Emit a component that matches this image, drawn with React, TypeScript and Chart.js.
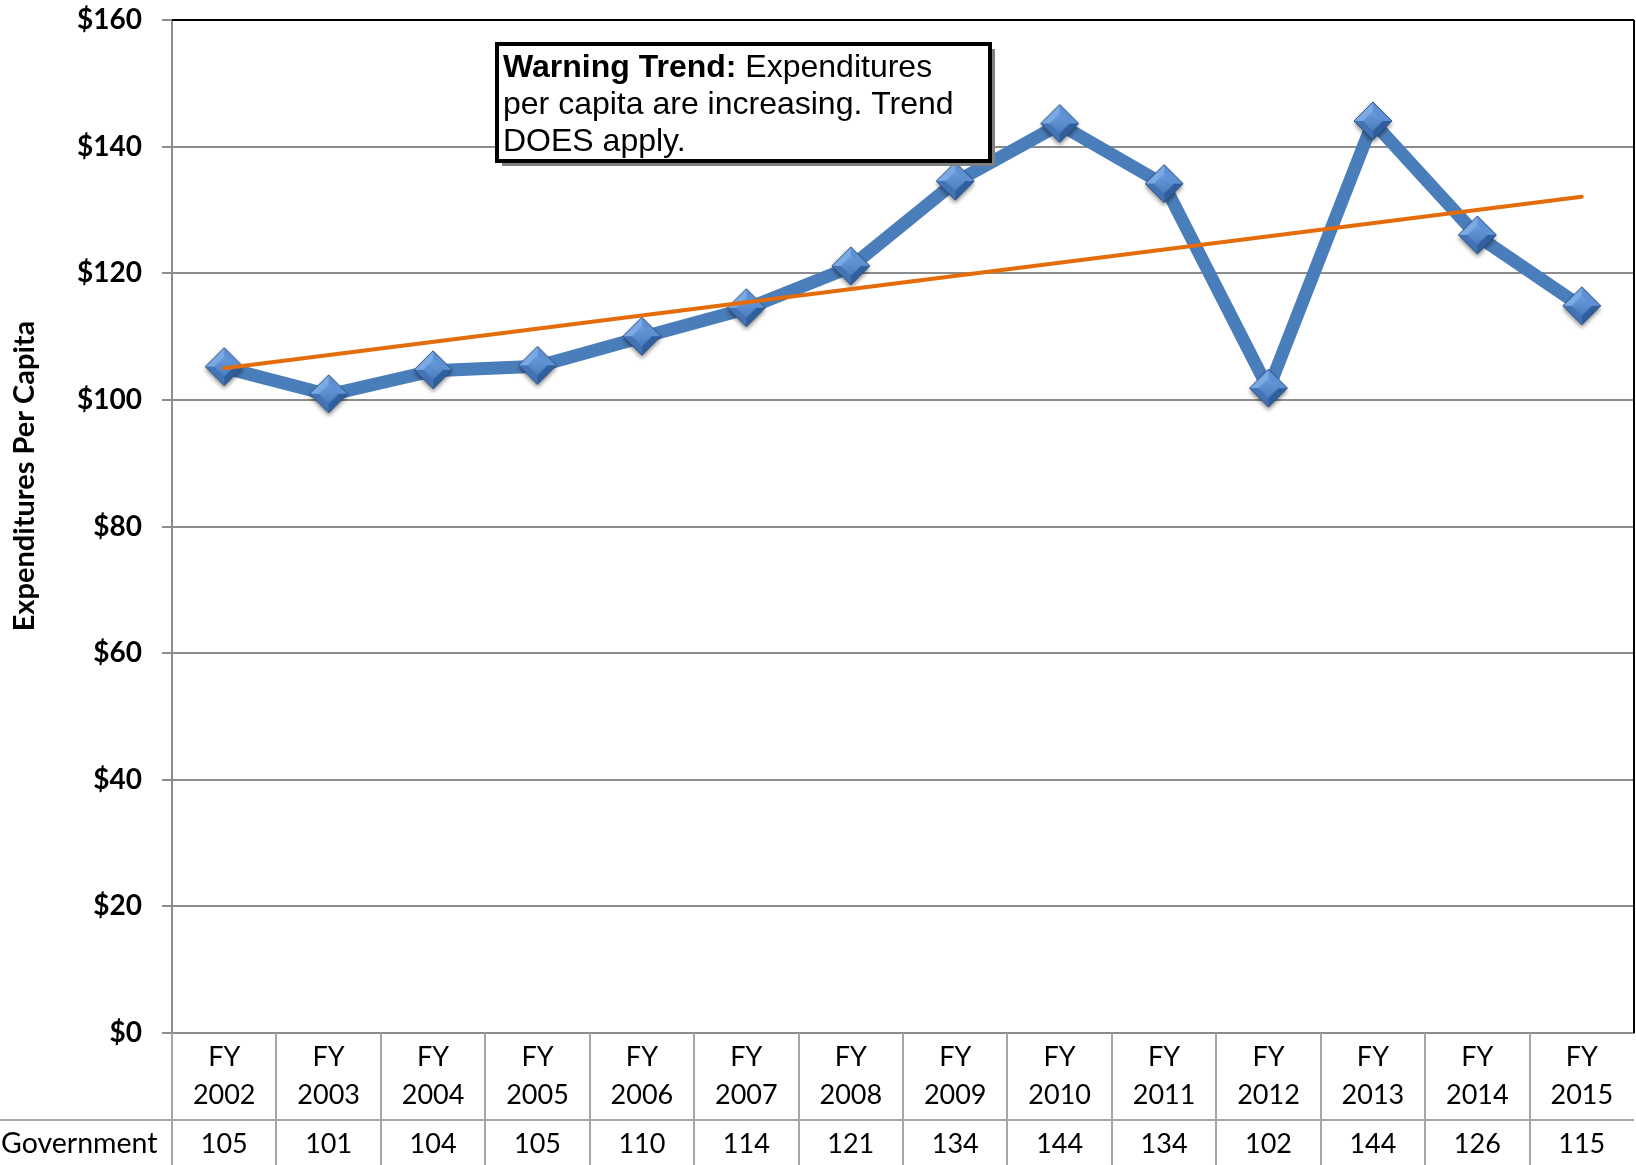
import React, { useEffect, useRef } from 'react';
import { Chart, registerables } from 'chart.js';

Chart.register(...registerables);

// ---------- data ----------
const fyLabels = ['FY', 'FY', 'FY', 'FY', 'FY', 'FY', 'FY', 'FY', 'FY', 'FY', 'FY', 'FY', 'FY', 'FY'];
const years = ['2002', '2003', '2004', '2005', '2006', '2007', '2008', '2009', '2010', '2011', '2012', '2013', '2014', '2015'];
const categories = years.map((y, i) => `${fyLabels[i]} ${y}`);
const expenditures = [105.1, 100.8, 104.6, 105.3, 109.9, 114.4, 121.0, 134.4, 143.5, 134.0, 101.7, 143.9, 125.9, 114.7];
const tableValues = ['105', '101', '104', '105', '110', '114', '121', '134', '144', '134', '102', '144', '126', '115'];
const trendValues: (number | null)[] = [105.0, null, null, null, null, null, null, null, null, null, null, null, null, 132.1];
const seriesName = 'Government';
const yMin = 0;
const yMax = 160;
const yStep = 20;
const yAxisTitle = 'Expenditures Per Capita';
const noteBold = 'Warning Trend:';
const noteLines = [' Expenditures', 'per capita are increasing. Trend', 'DOES apply.'];

// ---------- styling ----------
const W = 1636;
const H = 1165;
const BLUE = '#4A7EBB';
const ORANGE = '#E46C0A';
const GRID = '#8C8C8C';
const TABLE_LINE = '#A6A6A6';
const TABLE_FONT = '27px Lato';

function makeDiamond(): HTMLCanvasElement {
  const c = document.createElement('canvas');
  const s = 54;
  c.width = s;
  c.height = s;
  const g = c.getContext('2d')!;
  const cx = s / 2;
  const cy = s / 2 - 1;
  const r = 19;
  g.save();
  g.shadowColor = 'rgba(0,0,0,0.45)';
  g.shadowBlur = 4;
  g.shadowOffsetY = 3;
  g.beginPath();
  g.moveTo(cx, cy - r);
  g.lineTo(cx + r, cy);
  g.lineTo(cx, cy + r);
  g.lineTo(cx - r, cy);
  g.closePath();
  g.fillStyle = '#3F72B5';
  g.fill();
  g.restore();
  const facets: [number, number, number, number, string][] = [
    [cx - r, cy, cx, cy - r, '#7AA9E4'],
    [cx, cy - r, cx + r, cy, '#5E90D4'],
    [cx + r, cy, cx, cy + r, '#2F5F9E'],
    [cx, cy + r, cx - r, cy, '#4373B4'],
  ];
  for (const [x1, y1, x2, y2, col] of facets) {
    g.beginPath();
    g.moveTo(cx, cy);
    g.lineTo(x1, y1);
    g.lineTo(x2, y2);
    g.closePath();
    g.fillStyle = col;
    g.fill();
  }
  const ri = 10;
  const grad = g.createLinearGradient(cx, cy - ri, cx, cy + ri);
  grad.addColorStop(0, '#6B9DDD');
  grad.addColorStop(1, '#4A7CC0');
  g.beginPath();
  g.moveTo(cx, cy - ri);
  g.lineTo(cx + ri, cy);
  g.lineTo(cx, cy + ri);
  g.lineTo(cx - ri, cy);
  g.closePath();
  g.fillStyle = grad;
  g.fill();
  g.beginPath();
  g.moveTo(cx, cy - r);
  g.lineTo(cx + r, cy);
  g.lineTo(cx, cy + r);
  g.lineTo(cx - r, cy);
  g.closePath();
  g.strokeStyle = '#2C4F7E';
  g.lineWidth = 1;
  g.stroke();
  return c;
}

const decorPlugin = {
  id: 'decor',
  afterDraw(chart: any) {
    const { ctx, chartArea: ca } = chart;
    const x = chart.scales.x;
    const n = categories.length;
    ctx.save();

    // plot border top/right
    ctx.strokeStyle = '#000';
    ctx.lineWidth = 2;
    ctx.beginPath();
    ctx.moveTo(ca.left, ca.top);
    ctx.lineTo(ca.right, ca.top);
    ctx.moveTo(ca.right, ca.top);
    ctx.lineTo(ca.right, ca.bottom);
    ctx.stroke();

    // data table
    const rowLine = ca.bottom + 87;
    ctx.strokeStyle = TABLE_LINE;
    ctx.lineWidth = 2;
    ctx.beginPath();
    for (let i = 0; i < n; i++) {
      const bx = i === 0 ? ca.left : (x.getPixelForValue(i - 1) + x.getPixelForValue(i)) / 2;
      ctx.moveTo(Math.round(bx), ca.bottom);
      ctx.lineTo(Math.round(bx), H);
    }
    ctx.moveTo(0, rowLine);
    ctx.lineTo(ca.right, rowLine);
    ctx.stroke();

    ctx.fillStyle = '#000';
    ctx.font = TABLE_FONT;
    ctx.textAlign = 'center';
    ctx.textBaseline = 'middle';
    for (let i = 0; i < n; i++) {
      const px = x.getPixelForValue(i);
      ctx.fillText(fyLabels[i], px, ca.bottom + 24);
      ctx.fillText(years[i], px, ca.bottom + 62);
      ctx.fillText(tableValues[i], px, rowLine + 24);
    }
    ctx.textAlign = 'left';
    ctx.font = '28.5px Lato';
    ctx.fillText(seriesName, 1, rowLine + 24);

    // y axis title
    ctx.save();
    ctx.translate(25, 476);
    ctx.rotate(-Math.PI / 2);
    ctx.font = 'bold 29px Lato';
    ctx.textAlign = 'center';
    ctx.textBaseline = 'middle';
    ctx.fillText(yAxisTitle, 0, 0);
    ctx.restore();

    // annotation box
    const bx = 497, by = 44, bw = 493, bh = 117;
    ctx.fillStyle = '#808080';
    ctx.fillRect(bx + 5, by + 5, bw, bh);
    ctx.fillStyle = '#fff';
    ctx.fillRect(bx, by, bw, bh);
    ctx.strokeStyle = '#000';
    ctx.lineWidth = 4;
    ctx.strokeRect(bx, by, bw, bh);
    ctx.fillStyle = '#000';
    ctx.textAlign = 'left';
    ctx.textBaseline = 'alphabetic';
    ctx.font = 'bold 32px "Liberation Sans"';
    const tx = 503;
    ctx.fillText(noteBold, tx, 77);
    const bw1 = ctx.measureText(noteBold).width;
    ctx.font = '32px "Liberation Sans"';
    ctx.fillText(noteLines[0], tx + bw1, 77);
    ctx.fillText(noteLines[1], tx, 114);
    ctx.fillText(noteLines[2], tx, 151);

    ctx.restore();
  },
};

export default function App() {
  const ref = useRef<HTMLCanvasElement>(null);
  useEffect(() => {
    if (!ref.current) return;
    const diamond = makeDiamond();
    const chart = new Chart(ref.current, {
      type: 'line',
      data: {
        labels: categories,
        datasets: [
          {
            label: 'Trend',
            data: trendValues,
            borderColor: ORANGE,
            borderWidth: 4,
            borderCapStyle: 'round',
            pointRadius: 0,
            spanGaps: true,
            order: 0,
          },
          {
            label: seriesName,
            data: expenditures,
            borderColor: BLUE,
            borderWidth: 13,
            borderJoinStyle: 'round',
            borderCapStyle: 'round',
            pointStyle: diamond as any,
            pointRadius: 19,
            order: 1,
          },
        ],
      },
      options: {
        responsive: false,
        animation: false,
        devicePixelRatio: 1,
        layout: { autoPadding: false, padding: { top: 20, right: 2, left: 0, bottom: 0 } },
        plugins: { legend: { display: false }, tooltip: { enabled: false } },
        scales: {
          x: {
            offset: true,
            grid: { display: false, drawTicks: false },
            border: { color: GRID, width: 2 },
            ticks: { display: false },
            afterFit: (s: any) => { s.height = H - 1033; },
          },
          y: {
            min: yMin,
            max: yMax,
            ticks: {
              stepSize: yStep,
              padding: 20,
              color: '#000',
              font: { family: 'Lato', weight: 'bold', size: 28 },
              callback: (v: any) => '$' + v,
            },
            grid: { color: GRID, lineWidth: 2, tickLength: 10, drawTicks: true },
            border: { color: GRID, width: 2 },
            afterFit: (s: any) => {
              s.width = 172;
              s.paddingTop = 0;
              s.paddingBottom = 0;
            },
          },
        },
      },
      plugins: [decorPlugin],
    });
    return () => chart.destroy();
  }, []);
  return (
    <div style={{ position: 'absolute', left: 0, top: 0, width: W, height: H, background: '#fff' }}>
      <canvas ref={ref} width={W} height={H} />
    </div>
  );
}
